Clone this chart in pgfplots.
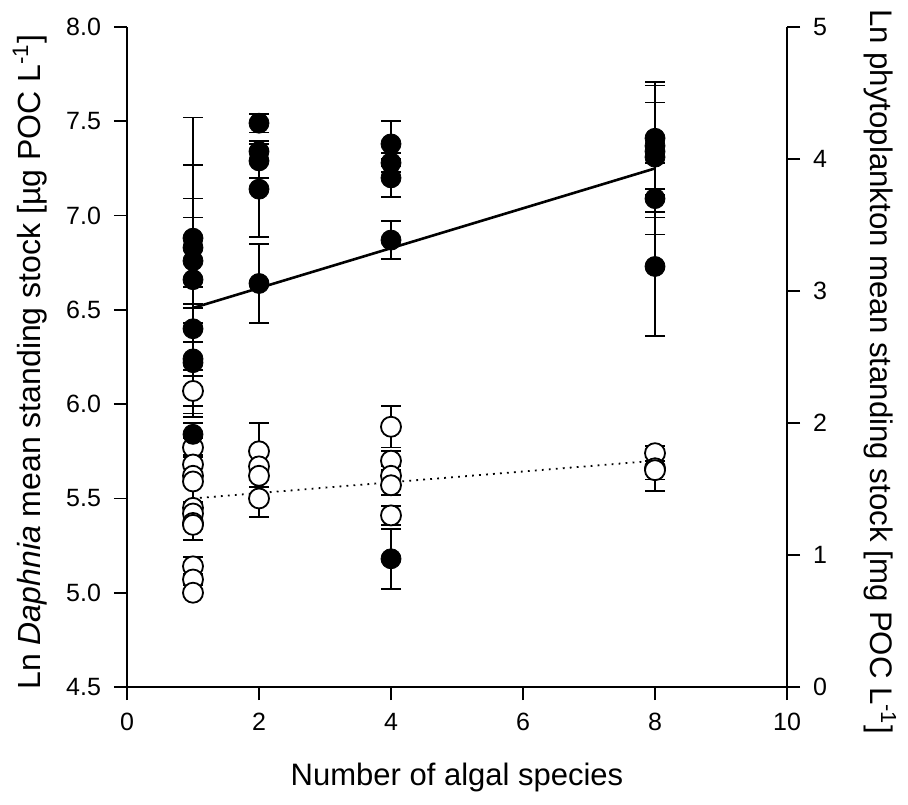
\documentclass[border=0pt]{standalone}
\usepackage{fontspec}
\setmainfont{Liberation Sans}
\usepackage{pgfplots}
\usepackage{pgfplotstable}
\pgfplotsset{compat=1.18}

% Filled circles (left-axis units)
\pgfplotstableread{
x y e
1 6.88 0.64
1 6.83 0.44
1 6.76 0.33
1 6.66 0.33
1 6.40 0.22
1 6.24 0.29
1 6.22 0.29
1 5.84 0.06
2 7.49 0.05
2 7.34 0.04
2 7.29 0.09
2 7.14 0.255
2 6.64 0.21
4 7.38 0.12
4 7.28 0.05
4 7.20 0.10
4 6.87 0.10
4 5.18 0.16
8 7.41 0.30
8 7.37 0.23
8 7.34 0.35
8 7.31 0.29
8 7.09 0.19
8 6.73 0.37
}\filleddata

% Open circles (left-axis units)
\pgfplotstableread{
x y e
1 6.07 0.08
1 5.77 0.05
1 5.68 0.05
1 5.62 0.05
1 5.59 0.11
1 5.45 0.03
1 5.42 0.05
1 5.37 0.09
1 5.36 0.08
1 5.14 0.05
1 5.07 0.03
1 5.00 0.02
2 5.75 0.15
2 5.67 0.02
2 5.62 0.06
2 5.50 0.10
4 5.88 0.11
4 5.70 0.05
4 5.62 0.05
4 5.57 0.05
4 5.41 0.05
8 5.74 0.04
8 5.66 0.12
8 5.65 0.05
}\opendata

\begin{document}
\begin{tikzpicture}
\pgfplotsset{
  common/.style={
    width=330pt, height=330pt, scale only axis,
    xmin=0, xmax=10,
    tick align=outside, major tick length=6.5pt,
    tick style={black, line width=0.8pt},
    axis line style={black, line width=0.8pt},
    /pgf/number format/assume math mode=true,
    tick label style={font=\fontsize{12.5}{14}\selectfont},
    clip=false,
  },
  ebar/.style={
    error bars/.cd, y dir=both, y explicit,
    error bar style={line width=0.9pt, black},
    error mark options={line width=0.9pt, black, mark size=5pt, rotate=90},
  },
}
\begin{axis}[common,
  ymin=4.5, ymax=8.0,
  axis y line*=left, axis x line*=bottom,
  xtick={0,2,4,6,8,10},
  ytick={4.5,5.0,5.5,6.0,6.5,7.0,7.5,8.0},
  yticklabel style={/pgf/number format/fixed, /pgf/number format/fixed zerofill, /pgf/number format/precision=1, xshift=-3pt},
  xticklabel style={yshift=-3pt},
  xlabel={Number of algal species},
  ylabel={Ln \textit{Daphnia} mean standing stock [µg POC L\textsuperscript{-1}]},
  every axis x label/.style={at={(axis description cs:0.5,-0.1364)}, anchor=center, font=\fontsize{15.5}{18}\selectfont},
  every axis y label/.style={at={(axis description cs:-0.147,0.492)}, anchor=center, rotate=90, font=\fontsize{16}{19}\selectfont},
]
\coordinate (bl) at (rel axis cs:0,0);
\coordinate (tr) at (rel axis cs:1,1);
% fitted lines
\addplot[black, line width=1.3pt, no marks] coordinates {(1,6.51) (8,7.25)};
\addplot[black, line width=0.9pt, no marks, dash pattern=on 0.9pt off 2.6pt] coordinates {(1,5.50) (8,5.70)};
% open circles
\addplot[only marks, mark=*, mark size=5pt, mark options={fill=white, draw=black, line width=0.9pt}, ebar]
  table[x=x, y=y, y error=e] {\opendata};
% filled circles
\addplot[only marks, mark=*, mark size=5pt, mark options={fill=black, draw=black}, ebar]
  table[x=x, y=y, y error=e] {\filleddata};
\end{axis}
\begin{axis}[common,
  ymin=0, ymax=5,
  axis y line*=right, axis x line=none,
  ytick={0,1,2,3,4,5},
  yticklabel style={xshift=3pt},
  ylabel={Ln phytoplankton mean standing stock [mg POC L\textsuperscript{-1}]},
  every axis y label/.style={at={(axis description cs:1.141,0.478)}, anchor=center, rotate=-90, font=\fontsize{15.6}{19}\selectfont},
]
\end{axis}
\pgfresetboundingbox
\path[use as bounding box] ([shift={(-63.5pt,-58.5pt)}]bl) rectangle ([shift={(60.5pt,13.5pt)}]tr);
\end{tikzpicture}
\end{document}
